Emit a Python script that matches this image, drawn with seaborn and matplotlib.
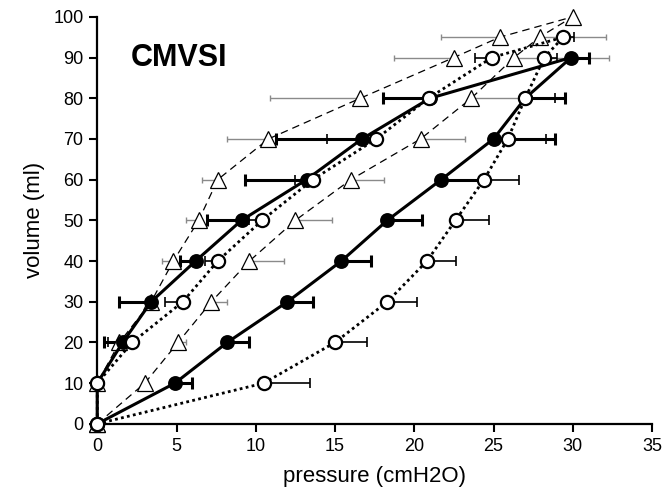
import matplotlib
matplotlib.use("Agg")
import matplotlib.pyplot as plt
import numpy as np
import seaborn as sns

sns.set_theme(style="ticks")
plt.rcParams["font.family"] = ["Liberation Sans", "DejaVu Sans"]
plt.rcParams["text.color"] = "black"
plt.rcParams["axes.labelcolor"] = "black"

# Pressure-volume loops, listed in drawing order (inflation, then deflation).
# Error values: positive = bar to the right, negative = bar to the left.
tri_volume = [0, 10, 20, 30, 40, 50, 60, 70, 80, 90, 95, 100,
              95, 90, 80, 70, 60, 50, 40, 30, 20, 10, 0]
tri_pressure = [0, 3.0, 5.1, 7.2, 9.6, 12.5, 16.0, 20.4, 23.6, 26.3, 27.9, 30.0,
                25.4, 22.5, 16.6, 10.8, 7.6, 6.4, 4.8, 3.4, 1.4, 0, 0]
tri_err = [0, 0.2, 0.5, 1.0, 2.2, 2.3, 2.1, 2.8, 3.2, 6.0, 4.2, 0,
           -3.7, -3.8, -5.7, -2.6, -1.0, -0.8, -0.7, 0, 0, 0, 0]

filled_volume = [0, 10, 20, 30, 40, 50, 60, 70, 80, 90,
                 80, 70, 60, 50, 40, 30, 20, 10, 0]
filled_pressure = [0, 4.9, 8.2, 12.0, 15.4, 18.3, 21.7, 25.0, 27.0, 29.9,
                   21.0, 16.7, 13.2, 9.1, 6.2, 3.4, 1.6, 0, 0]
filled_err = [0, 1.1, 1.4, 1.6, 1.9, 2.2, 2.9, 3.9, 2.5, 1.1,
              -3.0, -5.4, -3.9, -2.2, -1.0, -2.0, -1.2, 0, 0]

open_volume = [0, 10, 20, 30, 40, 50, 60, 70, 80, 90, 95,
               90, 80, 70, 60, 50, 40, 30, 20, 10, 0]
open_pressure = [0, 10.5, 15.0, 18.3, 20.8, 22.6, 24.4, 25.9, 27.0, 28.2, 29.4,
                 24.9, 20.9, 17.6, 13.6, 10.4, 7.6, 5.4, 2.2, 0, 0]
open_err = [0, 2.9, 2.0, 1.9, 1.8, 2.1, 2.2, 2.4, 1.9, 0.8, 0.7,
            -1.1, 0, -3.1, -1.1, -0.8, -0.8, -1.1, -1.5, 0, 0]

x_ticks = [0, 5, 10, 15, 20, 25, 30, 35]
y_ticks = [0, 10, 20, 30, 40, 50, 60, 70, 80, 90, 100]


def draw_errors(ax, pressure, volume, err, color, lw, cap, z):
    """One-sided horizontal error bars, only where an error is given."""
    p = np.asarray(pressure, dtype=float)
    v = np.asarray(volume, dtype=float)
    e = np.asarray(err, dtype=float)
    m = e != 0
    left = np.where(e[m] < 0, -e[m], 0)
    right = np.where(e[m] > 0, e[m], 0)
    ax.errorbar(p[m], v[m], xerr=[left, right], fmt="none", ecolor=color,
                elinewidth=lw, capsize=cap, capthick=lw, zorder=z, clip_on=False)


fig, ax = plt.subplots(figsize=(6.64, 4.94), dpi=100)
fig.subplots_adjust(left=0.1465, right=0.982, bottom=0.142, top=0.966)

# error bars (under the markers)
draw_errors(ax, tri_pressure, tri_volume, tri_err, "#8a8a8a", 1.0, 2.0, 1)
draw_errors(ax, filled_pressure, filled_volume, filled_err, "black", 2.2, 4.5, 2)
draw_errors(ax, open_pressure, open_volume, open_err, "black", 1.2, 3.5, 2)

# triangles, thin dashed line
sns.lineplot(x=tri_pressure, y=tri_volume, sort=False, estimator=None, ax=ax,
             color="black", linewidth=0.9, linestyle=(0, (6, 4)),
             marker="^", markersize=11, markerfacecolor="white",
             markeredgecolor="black", markeredgewidth=0.9,
             zorder=3, clip_on=False)

# filled circles, thick solid line
sns.lineplot(x=filled_pressure, y=filled_volume, sort=False, estimator=None, ax=ax,
             color="black", linewidth=2.2, linestyle="-",
             marker="o", markersize=9.5, markerfacecolor="black",
             markeredgecolor="black", markeredgewidth=1.2,
             zorder=4, clip_on=False)

# open circles, dotted line
sns.lineplot(x=open_pressure, y=open_volume, sort=False, estimator=None, ax=ax,
             color="black", linewidth=2.0, linestyle=(0, (1, 1.2)),
             marker="o", markersize=9.5, markerfacecolor="white",
             markeredgecolor="black", markeredgewidth=1.6,
             zorder=5, clip_on=False)

ax.text(5.15, 90, "CMVSI", fontsize=22, fontweight="bold", color="black",
        ha="center", va="center")

ax.set_xlim(0, 35)
ax.set_ylim(0, 100)
ax.set_xticks(x_ticks)
ax.set_yticks(y_ticks)
ax.set_xlabel("pressure (cmH2O)", fontsize=16, color="black", labelpad=8)
ax.set_ylabel("volume (ml)", fontsize=16, color="black", labelpad=6)
ax.tick_params(direction="out", length=6, width=1.5, labelsize=13,
               colors="black", pad=4)

sns.despine(ax=ax)
for side in ["left", "bottom"]:
    ax.spines[side].set_linewidth(1.6)
    ax.spines[side].set_color("black")

fig.savefig("out.png", dpi=100)
